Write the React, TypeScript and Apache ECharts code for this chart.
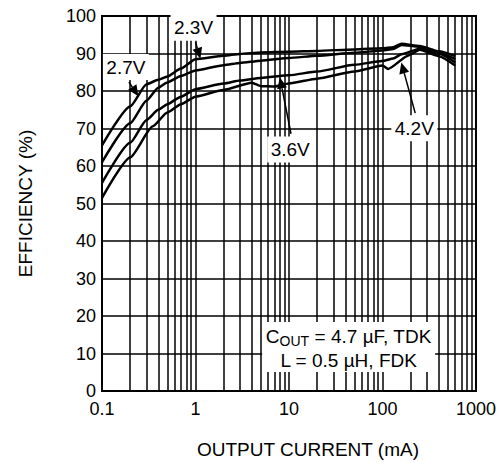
import React, { useEffect, useRef } from "react";
import * as echarts from "echarts";

// ---- data ----
const currA = [0.1, 0.2, 0.3, 0.4, 0.5, 0.7, 1, 2, 3, 5, 10, 20, 50, 100, 130, 160, 250, 400, 600];
const effA = [65.5, 75.9, 81.8, 83, 83.9, 86, 88.5, 89.4, 89.9, 90.3, 90.5, 90.7, 91.1, 91.4, 91.7, 92.6, 92, 90.6, 89.3];
const currB = [0.1, 0.2, 0.3, 0.4, 0.5, 0.7, 1, 2, 3, 5, 10, 20, 50, 100, 130, 160, 250, 400, 600];
const effB = [61, 71.4, 77.5, 80.9, 82.3, 84, 85.5, 86.9, 87.5, 88.1, 88.8, 89.4, 90.2, 90.8, 91.2, 92.3, 91.8, 90.2, 88.5];
const currC = [0.1, 0.2, 0.3, 0.4, 0.5, 0.7, 1, 2, 3, 5, 10, 20, 50, 100, 130, 160, 250, 400, 600];
const effC = [55.5, 66.2, 72.3, 75, 76.5, 78.5, 80.5, 82, 82.8, 83.5, 84.2, 85.2, 87, 88, 88.7, 89.8, 91.3, 90, 87.6];
const currD = [0.1, 0.2, 0.35, 0.5, 0.7, 1, 2, 4, 5, 7, 10, 20, 50, 100, 115, 190, 250, 400, 600];
const effD = [51.5, 62.3, 70.6, 74.3, 76.5, 78.5, 80.3, 82.2, 81.3, 81.2, 82, 83.3, 85.2, 86.8, 85.9, 89.5, 91, 89.3, 86.8];

const minorX = [0.2, 0.3, 0.4, 0.5, 0.6, 0.7, 0.8, 0.9, 2, 3, 4, 5, 6, 7, 8, 9, 20, 30, 40, 50, 60, 70, 80, 90, 200, 300, 400, 500, 600, 700, 800, 900];

const voltLabels = ["2.3V", "2.7V", "3.6V", "4.2V"];
const labelAt = [[0.953, 96.9], [0.18, 86.4], [10.3, 64.4], [219, 70.1]];
const labelTail = [[1.0, 93.0], [0.194, 82.4], [10.5, 68.6], [224, 74.1]];
const labelTip = [[1.13, 88.6], [0.245, 78.6], [8.0, 83.6], [159, 87.6]];

const noteBox = [[5.16, 18.4], [366, 5.1]];
const noteLine1At = [43.5, 14.6];
const noteLine2At = [43.5, 8.1];

const FONT = "Liberation Sans, Arial, Helvetica, sans-serif";

function pairs(xs: number[], ys: number[]) {
  return xs.map((x, i) => [x, ys[i]]);
}

export default function App() {
  const ref = useRef<HTMLDivElement>(null);
  useEffect(() => {
    if (!ref.current) return;
    const chart = echarts.init(ref.current, undefined, { renderer: "svg" });
    const curveStyle = { color: "#000", width: 2.5 };
    const mkCurve = (data: number[][]) => ({
      type: "line",
      data,
      showSymbol: false,
      symbol: "none",
      smooth: 0.2,
      smoothMonotone: "x",
      lineStyle: curveStyle,
      z: 10,
      silent: true,
    });
    chart.setOption({
      animation: false,
      backgroundColor: "#fff",
      grid: { left: 102, right: 21, top: 16, bottom: 71, show: true, borderColor: "#000", borderWidth: 2 },
      xAxis: {
        type: "log",
        logBase: 10,
        min: 0.1,
        max: 1000,
        axisLine: { show: true, lineStyle: { color: "#000", width: 2 } },
        axisTick: { show: false },
        splitLine: { show: true, lineStyle: { color: "#000", width: 1.5 } },
        axisLabel: {
          color: "#000",
          fontSize: 18,
          fontFamily: FONT,
          margin: 9,
          formatter: (v: number) => (v < 1 ? v.toFixed(1) : String(Math.round(v))),
        },
      },
      yAxis: {
        type: "value",
        min: 0,
        max: 100,
        interval: 10,
        axisLine: { show: true, lineStyle: { color: "#000", width: 2 } },
        axisTick: { show: false },
        splitLine: { show: true, lineStyle: { color: "#000", width: 1.5 } },
        axisLabel: { color: "#000", fontSize: 18, fontFamily: FONT, margin: 6 },
      },
      series: [
        {
          type: "line",
          data: [],
          z: 1,
          silent: true,
          markLine: {
            silent: true,
            symbol: ["none", "none"],
            label: { show: false },
            lineStyle: { color: "#000", width: 1.5, type: "solid" },
            data: minorX.map((v) => ({ xAxis: v })),
            animation: false,
          },
        },
        mkCurve(pairs(currA, effA)),
        mkCurve(pairs(currB, effB)),
        mkCurve(pairs(currC, effC)),
        mkCurve(pairs(currD, effD)),
      ],
    });

    const px = (p: number[]) => chart.convertToPixel({ gridIndex: 0 }, p) as number[];
    const graphics: any[] = [];
    voltLabels.forEach((t, i) => {
      const c = px(labelAt[i]);
      const tail = px(labelTail[i]);
      const tip = px(labelTip[i]);
      graphics.push({
        type: "rect",
        z: 5,
        shape: { x: c[0] - 23, y: c[1] - 13, width: 46, height: 26 },
        style: { fill: "#fff" },
      });
      graphics.push({
        type: "text",
        z: 6,
        x: c[0],
        y: c[1],
        style: { text: t, fill: "#000", font: `19px ${FONT}`, align: "center", verticalAlign: "middle" },
      });
      const dx = tip[0] - tail[0];
      const dy = tip[1] - tail[1];
      const len = Math.sqrt(dx * dx + dy * dy);
      const ux = dx / len;
      const uy = dy / len;
      const hl = 11;
      const hw = 5;
      const bx = tip[0] - ux * hl;
      const by = tip[1] - uy * hl;
      graphics.push({
        type: "line",
        z: 11,
        shape: { x1: tail[0], y1: tail[1], x2: bx, y2: by },
        style: { stroke: "#000", lineWidth: 1.5 },
      });
      graphics.push({
        type: "polygon",
        z: 11,
        shape: {
          points: [
            [tip[0], tip[1]],
            [bx - uy * hw, by + ux * hw],
            [bx + uy * hw, by - ux * hw],
          ],
        },
        style: { fill: "#000" },
      });
    });
    const b0 = px(noteBox[0]);
    const b1 = px(noteBox[1]);
    graphics.push({
      type: "rect",
      z: 5,
      shape: { x: b0[0], y: b0[1], width: b1[0] - b0[0], height: b1[1] - b0[1] },
      style: { fill: "#fff" },
    });
    const n1 = px(noteLine1At);
    const n2 = px(noteLine2At);
    graphics.push({
      type: "text",
      z: 6,
      x: n1[0],
      y: n1[1],
      style: {
        text: "{m|C}{s|OUT}{m| = 4.7 µF, TDK}",
        align: "center",
        verticalAlign: "middle",
        fill: "#000",
        rich: {
          m: { fontSize: 19, fontFamily: FONT, fill: "#000", lineHeight: 24, verticalAlign: "middle" },
          s: { fontSize: 14, fontFamily: FONT, fill: "#000", lineHeight: 14, verticalAlign: "bottom" },
        },
      },
    });
    graphics.push({
      type: "text",
      z: 6,
      x: n2[0],
      y: n2[1],
      style: { text: "L = 0.5 µH, FDK", fill: "#000", font: `19px ${FONT}`, align: "center", verticalAlign: "middle" },
    });
    graphics.push({
      type: "text",
      z: 6,
      x: 25,
      y: 203.5,
      rotation: Math.PI / 2,
      style: { text: "EFFICIENCY (%)", fill: "#000", font: `19px ${FONT}`, align: "center", verticalAlign: "middle" },
    });
    graphics.push({
      type: "text",
      z: 6,
      x: 308,
      y: 449,
      style: { text: "OUTPUT CURRENT (mA)", fill: "#000", font: `19px ${FONT}`, align: "center", verticalAlign: "middle" },
    });
    chart.setOption({ graphic: graphics });
    return () => chart.dispose();
  }, []);
  return (
    <div
      ref={ref}
      style={{ position: "fixed", left: 0, top: 0, width: 499, height: 462, background: "#fff" }}
    />
  );
}
